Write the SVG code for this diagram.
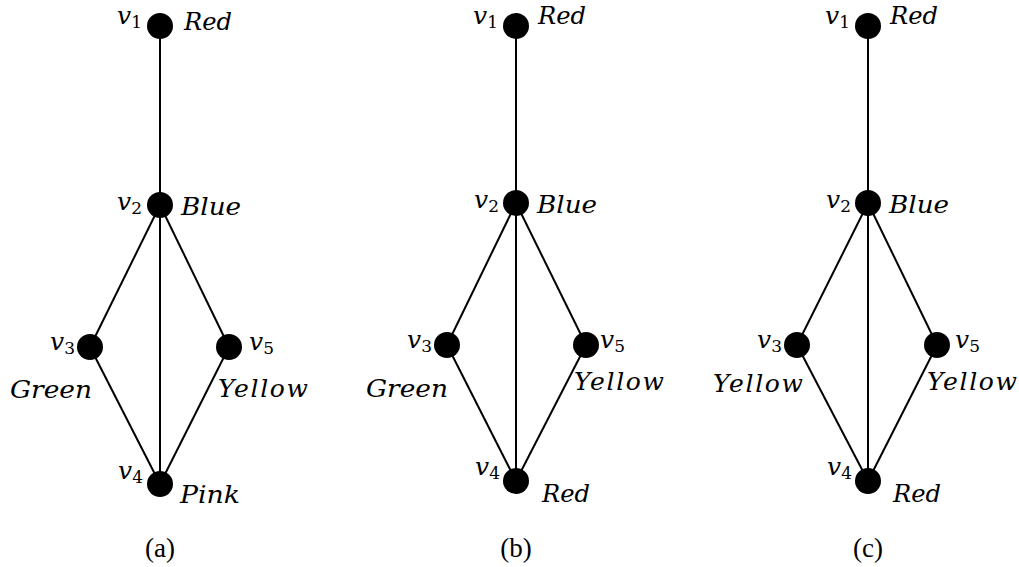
<svg xmlns="http://www.w3.org/2000/svg" width="1019" height="567" viewBox="0 0 1019 567">
  <style>
    .edge { stroke: #000; stroke-width: 2; fill: none; }
    .node { fill: #000; }
    .lbl { font-family: "DejaVu Serif", "Liberation Serif", serif; font-style: italic; font-size: 25px; fill: #000; }
    .vn { font-family: "DejaVu Serif", "Liberation Serif", serif; font-style: italic; font-size: 25px; fill: #000; }
    .sub { font-style: normal; font-size: 17px; }
    .cap { font-family: "Liberation Serif", "DejaVu Serif", serif; font-size: 27px; text-anchor: middle; fill: #000; }
  </style>
  <rect width="1019" height="567" fill="#fff"/>

  <!-- Graph (a) -->
  <g id="graph-a">
    <g id="edges-a">
      <line class="edge" x1="160" y1="26" x2="160" y2="205"/>
      <line class="edge" x1="160" y1="205" x2="90" y2="347"/>
      <line class="edge" x1="160" y1="205" x2="229" y2="347"/>
      <line class="edge" x1="160" y1="205" x2="160" y2="484"/>
      <line class="edge" x1="90" y1="347" x2="160" y2="484"/>
      <line class="edge" x1="229" y1="347" x2="160" y2="484"/>
    </g>
    <g id="a-v1"><circle class="node" cx="160" cy="26" r="13"/>
      <text class="vn" x="117" y="24">v<tspan class="sub" dy="4">1</tspan></text>
      <text class="lbl" x="184" y="30" textLength="48" lengthAdjust="spacingAndGlyphs">Red</text></g>
    <g id="a-v2"><circle class="node" cx="160" cy="205" r="13"/>
      <text class="vn" x="117" y="210">v<tspan class="sub" dy="4">2</tspan></text>
      <text class="lbl" x="181" y="215" textLength="60" lengthAdjust="spacingAndGlyphs">Blue</text></g>
    <g id="a-v3"><circle class="node" cx="90" cy="347" r="13"/>
      <text class="vn" x="50" y="350">v<tspan class="sub" dy="4">3</tspan></text>
      <text class="lbl" x="10" y="398" textLength="82" lengthAdjust="spacingAndGlyphs">Green</text></g>
    <g id="a-v5"><circle class="node" cx="229" cy="347" r="13"/>
      <text class="vn" x="249" y="350">v<tspan class="sub" dy="4">5</tspan></text>
      <text class="lbl" x="218" y="397" textLength="90" lengthAdjust="spacing">Yellow</text></g>
    <g id="a-v4"><circle class="node" cx="160" cy="484" r="13"/>
      <text class="vn" x="118" y="479">v<tspan class="sub" dy="4">4</tspan></text>
      <text class="lbl" x="180" y="503" textLength="60" lengthAdjust="spacingAndGlyphs">Pink</text></g>
    <text class="cap" x="160" y="557">(a)</text>
  </g>

  <!-- Graph (b) -->
  <g id="graph-b">
    <g id="edges-b">
      <line class="edge" x1="516" y1="26" x2="516" y2="203"/>
      <line class="edge" x1="516" y1="203" x2="447" y2="345"/>
      <line class="edge" x1="516" y1="203" x2="586" y2="345"/>
      <line class="edge" x1="516" y1="203" x2="516" y2="481"/>
      <line class="edge" x1="447" y1="345" x2="516" y2="481"/>
      <line class="edge" x1="586" y1="345" x2="516" y2="481"/>
    </g>
    <g id="b-v1"><circle class="node" cx="516" cy="26" r="13"/>
      <text class="vn" x="473" y="24">v<tspan class="sub" dy="4">1</tspan></text>
      <text class="lbl" x="538" y="24" textLength="48" lengthAdjust="spacingAndGlyphs">Red</text></g>
    <g id="b-v2"><circle class="node" cx="516" cy="203" r="13"/>
      <text class="vn" x="474" y="208">v<tspan class="sub" dy="4">2</tspan></text>
      <text class="lbl" x="537" y="213" textLength="60" lengthAdjust="spacingAndGlyphs">Blue</text></g>
    <g id="b-v3"><circle class="node" cx="447" cy="345" r="13"/>
      <text class="vn" x="407" y="348">v<tspan class="sub" dy="4">3</tspan></text>
      <text class="lbl" x="366" y="397" textLength="82" lengthAdjust="spacingAndGlyphs">Green</text></g>
    <g id="b-v5"><circle class="node" cx="586" cy="345" r="13"/>
      <text class="vn" x="600" y="348">v<tspan class="sub" dy="4">5</tspan></text>
      <text class="lbl" x="574" y="390" textLength="90" lengthAdjust="spacing">Yellow</text></g>
    <g id="b-v4"><circle class="node" cx="516" cy="481" r="13"/>
      <text class="vn" x="475" y="475">v<tspan class="sub" dy="4">4</tspan></text>
      <text class="lbl" x="542" y="502" textLength="48" lengthAdjust="spacingAndGlyphs">Red</text></g>
    <text class="cap" x="516" y="557">(b)</text>
  </g>

  <!-- Graph (c) -->
  <g id="graph-c">
    <g id="edges-c">
      <line class="edge" x1="868" y1="26" x2="868" y2="203"/>
      <line class="edge" x1="868" y1="203" x2="797" y2="345"/>
      <line class="edge" x1="868" y1="203" x2="937" y2="345"/>
      <line class="edge" x1="868" y1="203" x2="868" y2="481"/>
      <line class="edge" x1="797" y1="345" x2="868" y2="481"/>
      <line class="edge" x1="937" y1="345" x2="868" y2="481"/>
    </g>
    <g id="c-v1"><circle class="node" cx="868" cy="26" r="13"/>
      <text class="vn" x="825" y="24">v<tspan class="sub" dy="4">1</tspan></text>
      <text class="lbl" x="890" y="24" textLength="48" lengthAdjust="spacingAndGlyphs">Red</text></g>
    <g id="c-v2"><circle class="node" cx="868" cy="203" r="13"/>
      <text class="vn" x="826" y="208">v<tspan class="sub" dy="4">2</tspan></text>
      <text class="lbl" x="889" y="213" textLength="60" lengthAdjust="spacingAndGlyphs">Blue</text></g>
    <g id="c-v3"><circle class="node" cx="797" cy="345" r="13"/>
      <text class="vn" x="757" y="348">v<tspan class="sub" dy="4">3</tspan></text>
      <text class="lbl" x="713" y="392" textLength="90" lengthAdjust="spacing">Yellow</text></g>
    <g id="c-v5"><circle class="node" cx="937" cy="345" r="13"/>
      <text class="vn" x="955" y="348">v<tspan class="sub" dy="4">5</tspan></text>
      <text class="lbl" x="927" y="390" textLength="90" lengthAdjust="spacing">Yellow</text></g>
    <g id="c-v4"><circle class="node" cx="868" cy="481" r="13"/>
      <text class="vn" x="827" y="475">v<tspan class="sub" dy="4">4</tspan></text>
      <text class="lbl" x="893" y="502" textLength="48" lengthAdjust="spacingAndGlyphs">Red</text></g>
    <text class="cap" x="868" y="557">(c)</text>
  </g>
</svg>
